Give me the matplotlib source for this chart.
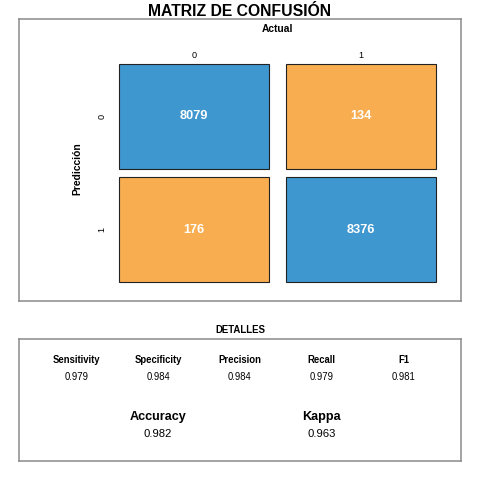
import matplotlib
matplotlib.use("Agg")
import matplotlib.pyplot as plt
from matplotlib.patches import Rectangle

plt.rcParams['font.family'] = ['Liberation Sans', 'DejaVu Sans']

# confusion matrix counts: rows = prediction, cols = actual
class_labels = ['0', '1']
counts = [[8079, 134],
          [176, 8376]]

metric_names = ['Sensitivity', 'Specificity', 'Precision', 'Recall', 'F1']
metric_values = [0.979, 0.984, 0.984, 0.979, 0.981]
overall_names = ['Accuracy', 'Kappa']
overall_values = [0.982, 0.963]

blue = '#3F97D0'
orange = '#F7AD50'
W = H = 480.0

fig = plt.figure(figsize=(4.8, 4.8), dpi=100)


def px_axes(x0, y0, x1, y1):
    # pixel box (top-left origin) -> axes
    return fig.add_axes([x0 / W, 1 - y1 / H, (x1 - x0) / W, (y1 - y0) / H])


def frame(ax):
    ax.set_xticks([])
    ax.set_yticks([])
    for s in ax.spines.values():
        s.set_color('#8a8a8a')
        s.set_linewidth(1.1)


# --- top panel: the matrix
ax = px_axes(19, 19, 461, 301)
ax.set_xlim(90.2, 354.8)
ax.set_ylim(294, 456)
frame(ax)

col_x = [(150, 240), (250, 340)]
row_y = [(370, 430), (305, 365)]
for i in range(2):
    for j in range(2):
        x0, x1 = col_x[j]
        y0, y1 = row_y[i]
        ax.add_patch(Rectangle((x0, y0), x1 - x0, y1 - y0,
                               facecolor=blue if i == j else orange,
                               edgecolor='#222222', linewidth=0.8))
        ax.text((x0 + x1) / 2, (y0 + y1) / 2, str(counts[i][j]),
                color='white', fontsize=9.2, fontweight='bold',
                ha='center', va='center')

for j, lab in enumerate(class_labels):
    ax.text(sum(col_x[j]) / 2, 435, lab, fontsize=6.6, ha='center', va='center')
for i, lab in enumerate(class_labels):
    ax.text(140, sum(row_y[i]) / 2, lab, fontsize=6.6, rotation=90,
            ha='center', va='center')

ax.text(245, 450, 'Actual', fontsize=7.4, fontweight='bold', ha='center', va='center')
ax.text(125, 370, 'Predicción', fontsize=7.4, fontweight='bold', rotation=90,
        ha='center', va='center')

fig.text(0.5, 1 - 16.5 / H, 'MATRIZ DE CONFUSIÓN', fontsize=11.3,
         fontweight='bold', ha='center', va='baseline')

# --- bottom panel: details
ax2 = px_axes(19, 339, 461, 461)
ax2.set_xlim(-4, 104)
ax2.set_ylim(-4, 104)
frame(ax2)

for k, (name, val) in enumerate(zip(metric_names, metric_values)):
    x = 10 + 20 * k
    ax2.text(x, 85, name, fontsize=6.85, fontweight='bold', ha='center', va='center')
    ax2.text(x, 70, f'{val:.3f}', fontsize=6.85, ha='center', va='center')

for k, (name, val) in enumerate(zip(overall_names, overall_values)):
    x = 30 + 40 * k
    ax2.text(x, 35, name, fontsize=9.1, fontweight='bold', ha='center', va='center')
    ax2.text(x, 20, f'{val:.3f}', fontsize=8.1, ha='center', va='center')

fig.text(0.5, 1 - 332.7 / H, 'DETALLES', fontsize=6.9, fontweight='bold',
         ha='center', va='baseline')

fig.savefig('out.png', dpi=100)
